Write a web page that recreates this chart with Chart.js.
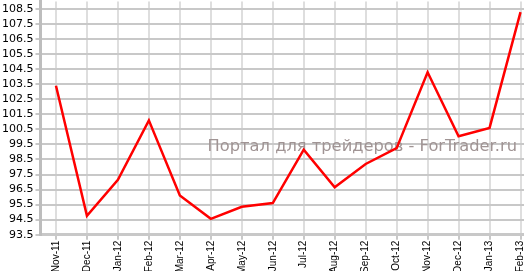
<!DOCTYPE html>
<html>
<head>
<meta charset="utf-8">
<script src="https://cdn.jsdelivr.net/npm/chart.js@4"></script>
<style>
    html, body { margin: 0; padding: 0; background: #fff; overflow: hidden; }
    #wrap { position: relative; width: 524px; height: 271px; overflow: hidden; }
    #chart { position: absolute; left: 0; top: -7px; }
</style>
</head>
<body>
<div id="wrap"><canvas id="chart" width="536" height="282"></canvas></div>
<script>
const months = ["Nov-11", "Dec-11", "Jan-12", "Feb-12", "Mar-12", "Apr-12", "May-12", "Jun-12",
    "Jul-12", "Aug-12", "Sep-12", "Oct-12", "Nov-12", "Dec-12", "Jan-13", "Feb-13"];
const values = [103.4, 94.75, 97.15, 101.1, 96.1, 94.55, 95.35, 95.6,
    99.15, 96.65, 98.2, 99.25, 104.3, 100.05, 100.6, 108.3];
const yTicks = [93.5, 94.5, 95.5, 96.5, 97.5, 98.5, 99.5, 100.5, 101.5, 102.5,
    103.5, 104.5, 105.5, 106.5, 107.5, 108.5];
const watermark = "Портал для трейдеров - ForTrader.ru";

// ===== WATERMARK =====
const watermarkPlugin = {
    id: "watermark",
    beforeDatasetsDraw(chart) {
        const ctx = chart.ctx;
        ctx.save();
        ctx.font = "16.3px 'DejaVu Sans'";
        ctx.fillStyle = "#a09494";
        ctx.textAlign = "right";
        ctx.textBaseline = "alphabetic";
        ctx.fillText(watermark, 517, 158);
        ctx.restore();
    }
};

const ctx = document.getElementById("chart").getContext("2d");

new Chart(ctx, {
    type: "line",
    data: {
        labels: months,
        datasets: [{
            data: values,
            borderColor: "#ff0000",
            borderWidth: 2.5,
            pointRadius: 0,
            tension: 0,
            fill: false
        }]
    },
    options: {
        responsive: false,
        animation: false,
        layout: { padding: { top: 0, left: 0, right: 0, bottom: 0 } },
        plugins: {
            legend: { display: false },
            tooltip: { enabled: false }
        },
        scales: {
            x: {
                offset: true,
                grid: {
                    offset: false,
                    color: "#dedede",
                    lineWidth: 2,
                    tickLength: 5,
                    tickColor: "#c8c8c8"
                },
                border: { color: "#c8c8c8", width: 3 },
                ticks: {
                    minRotation: 90,
                    maxRotation: 90,
                    autoSkip: false,
                    padding: 1,
                    color: "#000",
                    font: { family: "'Liberation Sans'", size: 10 }
                }
            },
            y: {
                min: 93.5,
                max: 109,
                afterBuildTicks: axis => {
                    axis.ticks = yTicks.map(v => ({ value: v }));
                },
                grid: {
                    color: "#c8c8c8",
                    lineWidth: 2,
                    tickLength: 5
                },
                border: { color: "#bdbdbd", width: 3 },
                ticks: {
                    autoSkip: false,
                    padding: 2,
                    color: "#000",
                    font: { family: "'DejaVu Sans'", size: 11 },
                    callback: v => Number(v).toFixed(1)
                }
            }
        }
    },
    plugins: [watermarkPlugin]
});
</script>
</body>
</html>
